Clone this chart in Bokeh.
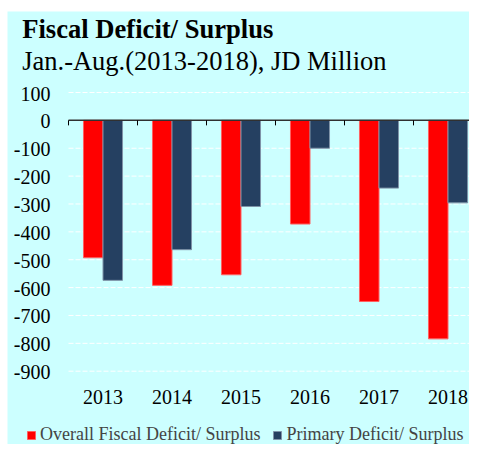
from bokeh.plotting import figure
from bokeh.models import Range1d, Legend, LegendItem, ColumnDataSource
from bokeh.transform import dodge
from bokeh.core.properties import value
from bokeh.embed import file_html
from bokeh.resources import INLINE

years = ["2013", "2014", "2015", "2016", "2017", "2018"]
overall = [-493, -592, -554, -372, -650, -784]
primary = [-574, -464, -309, -100, -243, -296]
y_ticks = [100, 0, -100, -200, -300, -400, -500, -600, -700, -800, -900]
y_tick_labels = [str(t) for t in y_ticks]
title = "Fiscal Deficit/ Surplus"
subtitle = "Jan.-Aug.(2013-2018), JD Million"
series_names = ["Overall Fiscal Deficit/ Surplus", "Primary Deficit/ Surplus"]

FONT = "Liberation Serif"
BG = "#CCFFFF"

W, H = 469, 444          # canvas size
LEFT_GAP, TOP_GAP = 7, 11  # white strips around the chart area
CAT_LEFT = 68            # px where the category area starts
CAT_PX = 69              # px per category
PLOT_TOP = 92            # px of the top tick (100)
PLOT_BOTTOM = 370.7      # px of the bottom tick (-900)

n = len(years)
x_start = -(CAT_LEFT - LEFT_GAP) / CAT_PX
x_end = (W - CAT_LEFT) / CAT_PX
ymax, ymin = max(y_ticks), min(y_ticks)
px_per_unit = (PLOT_BOTTOM - PLOT_TOP) / (ymax - ymin)
y_end = ymax + (PLOT_TOP - TOP_GAP) / px_per_unit
y_start = ymax - (H - PLOT_TOP) / px_per_unit

xpos = [i + 0.5 for i in range(n)]
src = ColumnDataSource(dict(x=xpos, overall=overall, primary=primary, year=years))

p = figure(width=W, height=H, output_backend="svg", toolbar_location=None,
           x_range=Range1d(x_start, x_end), y_range=Range1d(y_start, y_end),
           x_axis_type=None, y_axis_type=None,
           min_border=0, min_border_left=LEFT_GAP, min_border_right=0,
           min_border_top=TOP_GAP, min_border_bottom=0)
p.background_fill_color = BG
p.border_fill_color = "white"
p.outline_line_color = None

# horizontal grid lines (white, dashed) across the category area
grid_vals = [t for t in y_ticks if t != 0]
p.segment(x0=[0] * len(grid_vals), x1=[n] * len(grid_vals), y0=grid_vals, y1=grid_vals,
          line_color="white", line_width=1, line_dash="5 2")

bw = 0.283
r1 = p.vbar(x=dodge("x", -bw / 2, range=p.x_range), top="overall", bottom=0, width=bw,
            source=src, fill_color="#FF0000", line_color="#FF6060", line_width=1)
r2 = p.vbar(x=dodge("x", bw / 2, range=p.x_range), top="primary", bottom=0, width=bw,
            source=src, fill_color="#254061", line_color="#7F93A8", line_width=1)

# zero axis line and category boundary tick marks
p.segment(x0=[0], x1=[n], y0=[0], y1=[0], line_color="#303030", line_width=1.5)
bounds = list(range(n + 1))
tick_len = 5 / px_per_unit
p.segment(x0=bounds, x1=bounds, y0=[0] * len(bounds), y1=[-tick_len] * len(bounds),
          line_color="black", line_width=1)

# y tick labels
p.text(x=[0] * len(y_ticks), y=y_ticks, text=y_tick_labels, x_offset=-18, y_offset=1,
       text_align="right", text_baseline="middle", text_font=value(FONT),
       text_font_size="20px", text_color="black")

# x category labels
p.text(x="x", y=ymin, text="year", source=src, y_offset=25.3,
       text_align="center", text_baseline="middle", text_font=value(FONT),
       text_font_size="20px", text_color="black")

# titles
p.text(x=[x_start], y=[y_end], text=[title], x_offset=14.7, y_offset=17.7,
       text_align="left", text_baseline="middle", text_font=value(FONT),
       text_font_size="26.6px", text_font_style="bold", text_color="black")
p.text(x=[x_start], y=[y_end], text=[subtitle], x_offset=14.7, y_offset=49.5,
       text_align="left", text_baseline="middle", text_font=value(FONT),
       text_font_size="26.5px", text_color="black")

legend = Legend(items=[LegendItem(label=series_names[0], renderers=[r1]),
                       LegendItem(label=series_names[1], renderers=[r2])],
                orientation="horizontal", location=(19, -1),
                glyph_width=10, glyph_height=10, label_standoff=4, spacing=12,
                padding=0, margin=0, border_line_color=None, background_fill_alpha=0,
                label_text_font=FONT, label_text_font_size="18px", label_height=20)
p.add_layout(legend, "center")

open("out.html", "w").write(file_html(p, INLINE))
